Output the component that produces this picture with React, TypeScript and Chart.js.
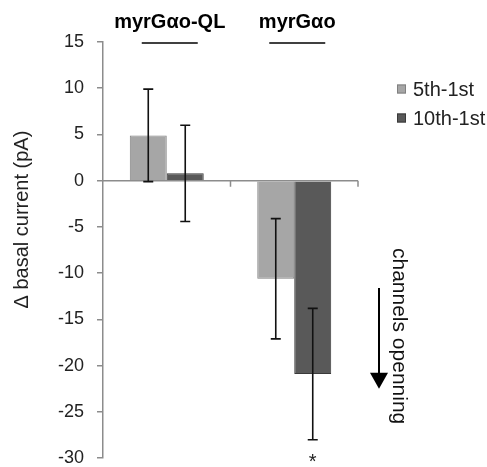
import React, { useEffect, useRef } from "react";
import { Chart, registerables } from "chart.js";

Chart.register(...registerables);

const categories = ["myrGαo-QL", "myrGαo"];
const seriesLabels = ["5th-1st", "10th-1st"];
const series5th = [4.9, -10.6];
const series10th = [0.8, -20.9];
const err5th = [5.0, 6.5];
const err10th = [5.2, 7.1];
const significant10th = ["", "*"];
const yTicks = { min: -30, max: 15, step: 5 };
const yTitle = "Δ basal current (pA)";
const sideNote = "channels openning";

const fillColors = ["#a6a6a6", "#595959"];
const borderColors = ["#808080", "#3a3a3a"];

const overlayPlugin = {
  id: "overlay",
  afterDatasetsDraw(chart: any) {
    const ctx = chart.ctx;
    const area = chart.chartArea;
    const y = chart.scales.y;
    const x = chart.scales.x;
    const zeroY = y.getPixelForValue(0);
    ctx.save();

    // x axis line at zero with ticks at category boundaries
    ctx.strokeStyle = "#8c8c8c";
    ctx.lineWidth = 1.5;
    ctx.beginPath();
    ctx.moveTo(area.left, zeroY);
    ctx.lineTo(area.right, zeroY);
    const n = categories.length;
    const catW = (area.right - area.left) / n;
    for (let i = 1; i <= n; i++) {
      const bx = area.left + catW * i;
      ctx.moveTo(bx, zeroY);
      ctx.lineTo(bx, zeroY + 6);
    }
    ctx.stroke();

    // error bars
    const errs = [err5th, err10th];
    const vals = [series5th, series10th];
    ctx.strokeStyle = "#111";
    ctx.lineWidth = 1.6;
    for (let d = 0; d < 2; d++) {
      const meta = chart.getDatasetMeta(d);
      meta.data.forEach((bar: any, i: number) => {
        const v = vals[d][i];
        const e = errs[d][i];
        const yt = y.getPixelForValue(v + e);
        const yb = y.getPixelForValue(v - e);
        ctx.beginPath();
        ctx.moveTo(bar.x, yt);
        ctx.lineTo(bar.x, yb);
        ctx.moveTo(bar.x - 5, yt);
        ctx.lineTo(bar.x + 5, yt);
        ctx.moveTo(bar.x - 5, yb);
        ctx.lineTo(bar.x + 5, yb);
        ctx.stroke();
        if (d === 1 && significant10th[i]) {
          ctx.fillStyle = "#222";
          ctx.font = "20px 'Liberation Sans', Arial, sans-serif";
          ctx.textAlign = "center";
          ctx.textBaseline = "top";
          ctx.fillText(significant10th[i], bar.x, yb + 13);
        }
      });
    }

    // group labels and lines
    categories.forEach((c, i) => {
      const cx = x.getPixelForValue(i) + 3;
      ctx.fillStyle = "#000";
      ctx.font = "bold 20px 'Liberation Sans', Arial, sans-serif";
      ctx.textAlign = "center";
      ctx.textBaseline = "alphabetic";
      ctx.fillText(c, cx, area.top - 14);
      ctx.strokeStyle = "#404040";
      ctx.lineWidth = 2;
      ctx.beginPath();
      ctx.moveTo(cx - 28, area.top + 1);
      ctx.lineTo(cx + 28, area.top + 1);
      ctx.stroke();
    });

    // legend
    seriesLabels.forEach((lab, i) => {
      const ly = area.top + 47 + i * 29;
      const lx = area.right + 39;
      ctx.fillStyle = fillColors[i];
      ctx.strokeStyle = borderColors[i];
      ctx.lineWidth = 1;
      ctx.fillRect(lx, ly - 4.5, 9, 9);
      ctx.strokeRect(lx + 0.5, ly - 4, 8, 8);
      ctx.fillStyle = "#222";
      ctx.font = "20px 'Liberation Sans', Arial, sans-serif";
      ctx.textAlign = "left";
      ctx.textBaseline = "middle";
      ctx.fillText(lab, lx + 16, ly + 1);
    });

    // y title
    ctx.save();
    ctx.translate(22, y.getPixelForValue(-4.2));
    ctx.rotate(-Math.PI / 2);
    ctx.fillStyle = "#222";
    ctx.font = "20px 'Liberation Sans', Arial, sans-serif";
    ctx.textAlign = "center";
    ctx.textBaseline = "middle";
    ctx.fillText(yTitle, 0, 0);
    ctx.restore();

    // arrow
    const ax = area.right + 21;
    const aTop = y.getPixelForValue(-11.6);
    const aBot = y.getPixelForValue(-22.5);
    ctx.strokeStyle = "#000";
    ctx.fillStyle = "#000";
    ctx.lineWidth = 2;
    ctx.beginPath();
    ctx.moveTo(ax, aTop);
    ctx.lineTo(ax, aBot - 12);
    ctx.stroke();
    ctx.beginPath();
    ctx.moveTo(ax - 9, aBot - 16);
    ctx.lineTo(ax + 9, aBot - 16);
    ctx.lineTo(ax, aBot);
    ctx.closePath();
    ctx.fill();

    // side note
    ctx.save();
    ctx.translate(area.right + 41, y.getPixelForValue(-16.8));
    ctx.rotate(Math.PI / 2);
    ctx.fillStyle = "#111";
    ctx.font = "21px 'Liberation Sans', Arial, sans-serif";
    ctx.textAlign = "center";
    ctx.textBaseline = "middle";
    ctx.fillText(sideNote, 0, 0);
    ctx.restore();

    ctx.restore();
  },
};

export default function App() {
  const ref = useRef<HTMLCanvasElement>(null);
  useEffect(() => {
    document.body.style.margin = "0";
    const chart = new Chart(ref.current!, {
      type: "bar",
      data: {
        labels: categories,
        datasets: [
          {
            label: seriesLabels[0],
            data: series5th,
            backgroundColor: fillColors[0],
            borderColor: borderColors[0],
            borderWidth: 1,
          },
          {
            label: seriesLabels[1],
            data: series10th,
            backgroundColor: fillColors[1],
            borderColor: borderColors[1],
            borderWidth: 1,
          },
        ],
      },
      options: {
        animation: false,
        responsive: false,
        layout: { padding: { top: 42, right: 129, bottom: 0, left: 0 } },
        plugins: { legend: { display: false }, tooltip: { enabled: false } },
        datasets: { bar: { categoryPercentage: 0.58, barPercentage: 1.0 } },
        scales: {
          x: { display: false },
          y: {
            min: yTicks.min,
            max: yTicks.max,
            ticks: {
              stepSize: yTicks.step,
              color: "#222",
              padding: 13,
              font: { size: 18, family: "'Liberation Sans', Arial, sans-serif" },
            },
            grid: { drawOnChartArea: false, drawTicks: true, tickLength: 6, color: "#8c8c8c", lineWidth: 1.5 },
            border: { display: true, color: "#8c8c8c", width: 1.5 },
            afterFit(scale: any) {
              scale.width = 103;
            },
          },
        },
      },
      plugins: [overlayPlugin],
    });
    return () => chart.destroy();
  }, []);
  return (
    <div style={{ width: 487, height: 467, overflow: "hidden" }}>
      <canvas ref={ref} width={487} height={482} style={{ display: "block" }} />
    </div>
  );
}
